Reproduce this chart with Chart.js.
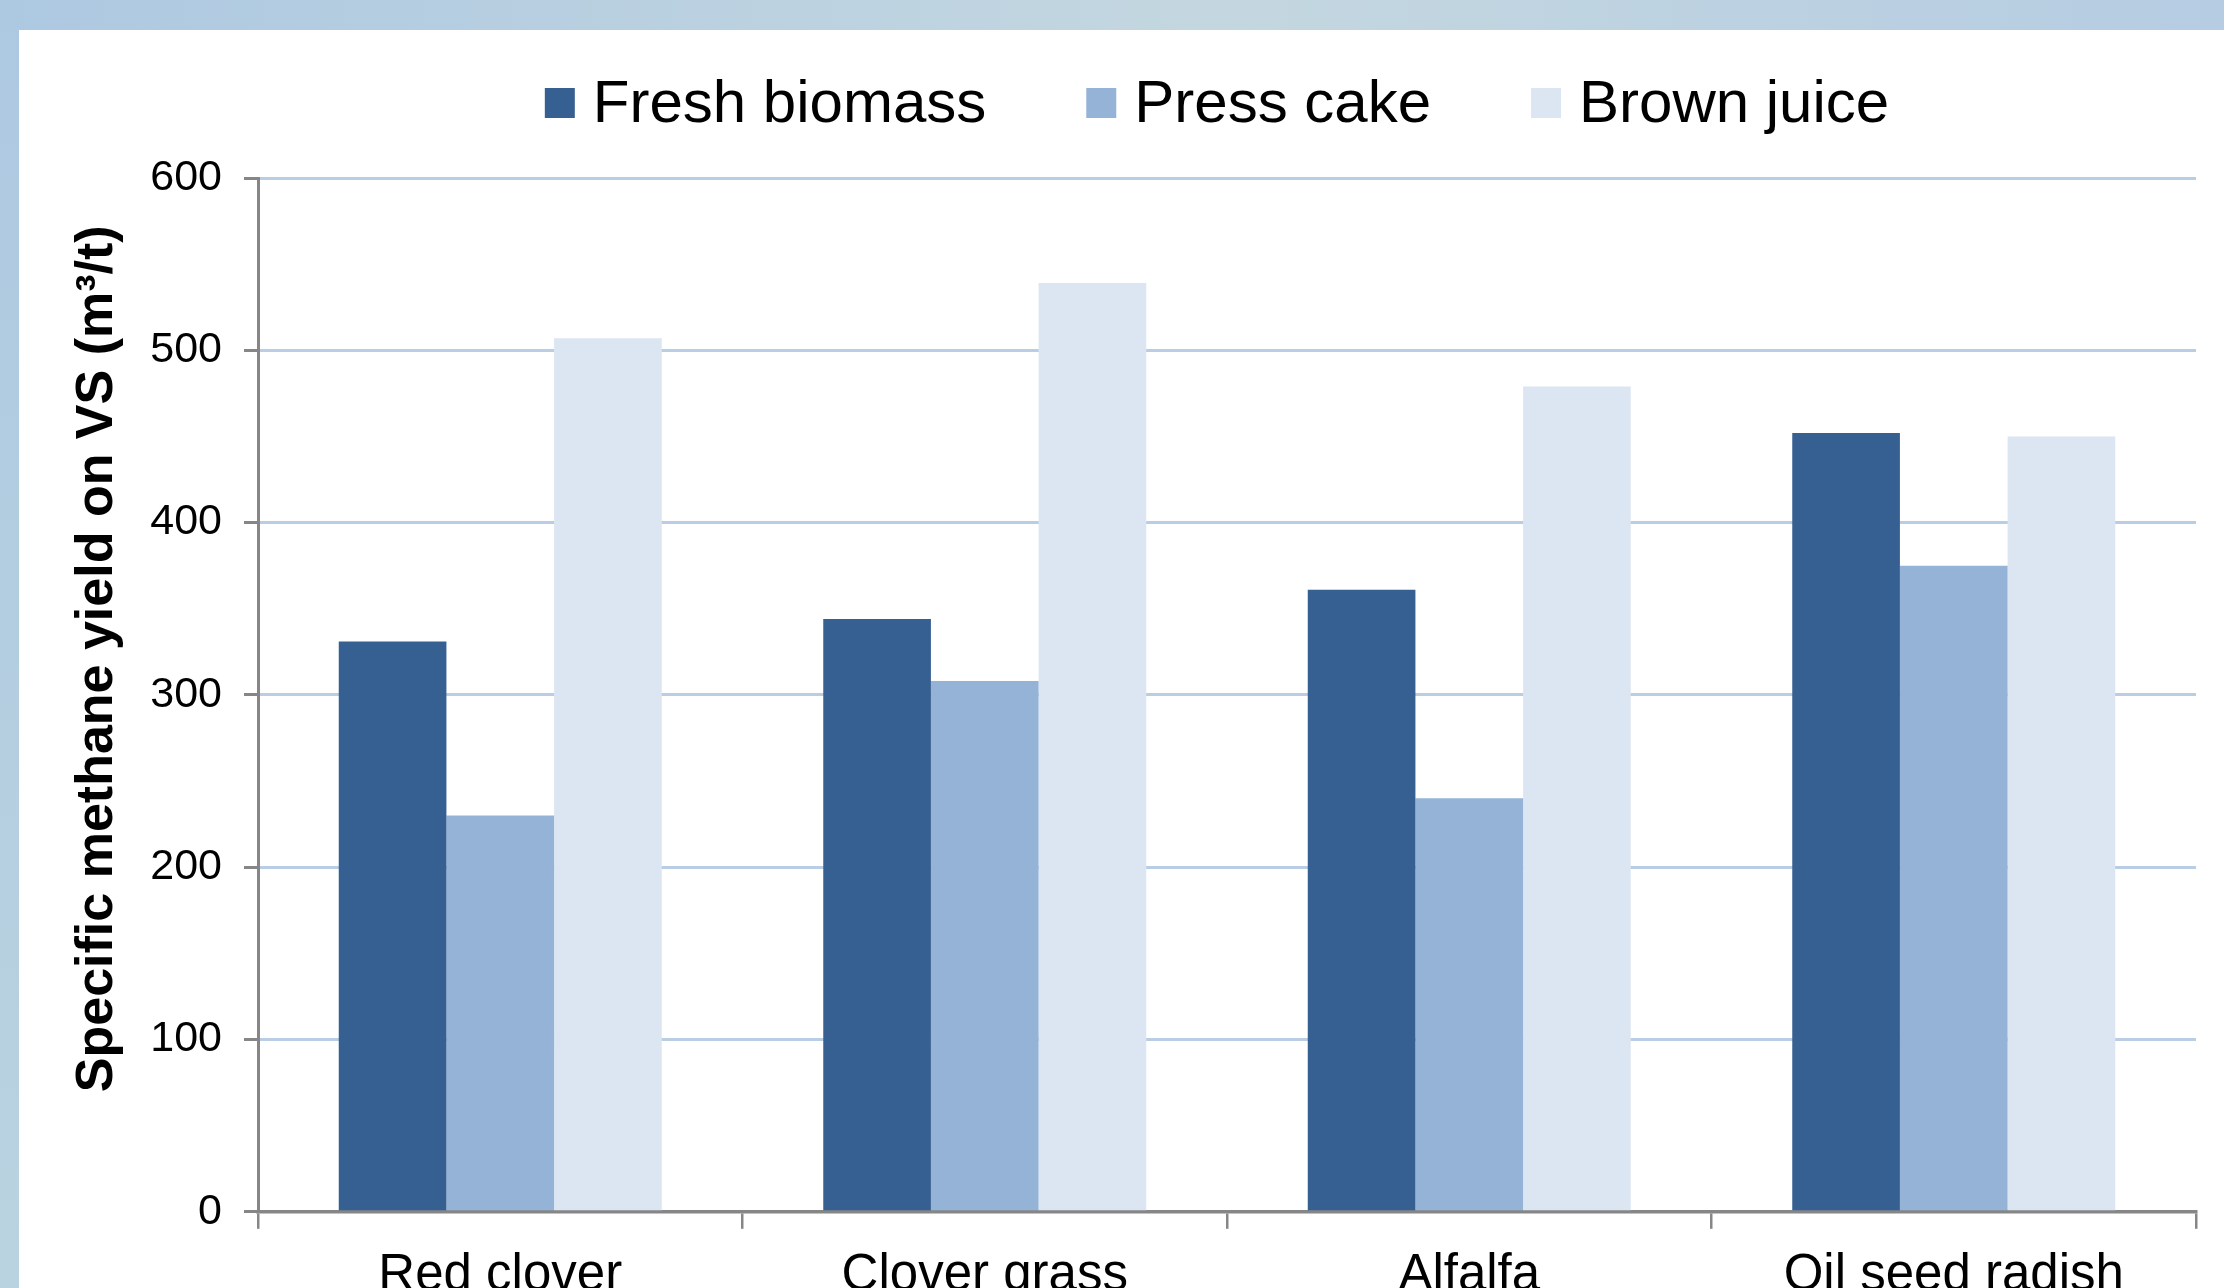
<!DOCTYPE html>
<html lang="en">
<head>
    <meta charset="UTF-8">
    <title>Specific methane yield on VS</title>
    <style>
        html, body {
            margin: 0;
            padding: 0;
            width: 2224px;
            height: 1288px;
            overflow: hidden;
            background: #ffffff;
            font-family: "Liberation Sans", Arial, sans-serif;
        }
        .band-top {
            position: absolute;
            left: 0;
            top: 0;
            width: 2224px;
            height: 30px;
            background: linear-gradient(to right, #adc8e1, #c4d7e0 55%, #b5cce2);
        }
        .band-left {
            position: absolute;
            left: 0;
            top: 0;
            width: 19px;
            height: 1288px;
            background: linear-gradient(to bottom, #adc8e1, #bad3e0);
        }
        .chart-box {
            position: absolute;
            left: 0;
            top: 0;
            width: 2224px;
            height: 1332px;
        }
    </style>
</head>
<body>
    <div class="band-top"></div>
    <div class="band-left"></div>
    <div class="chart-box">
        <canvas id="yield-chart"></canvas>
    </div>

    <script src="https://cdn.jsdelivr.net/npm/chart.js"></script>
    <script>
        // crops and series (m3 CH4 per t VS)
        const crops = ['Red clover', 'Clover grass', 'Alfalfa', 'Oil seed radish'];
        const freshBiomass = [331, 344, 361, 452];
        const pressCake = [230, 308, 240, 375];
        const brownJuice = [507, 539, 479, 450];
        const seriesNames = ['Fresh biomass', 'Press cake', 'Brown juice'];
        const seriesColors = ['#376092', '#95b3d7', '#dce6f2'];
        const yTicks = [0, 100, 200, 300, 400, 500, 600];

        const FONT = '"Liberation Sans", Arial, sans-serif';
        const GRID_BLUE = '#b9cde5';
        const AXIS_GRAY = '#868686';

        // legend row above the plot, drawn from the datasets
        const legendRow = {
            id: 'legendRow',
            afterDraw(chart) {
                const ctx = chart.ctx;
                const area = chart.chartArea;
                const box = 30, gap = 18, spacing = 100;
                ctx.save();
                ctx.font = '60px ' + FONT;
                const items = chart.data.datasets.map(ds => ({
                    text: ds.label,
                    color: ds.backgroundColor,
                    w: ctx.measureText(ds.label).width
                }));
                let total = spacing * (items.length - 1);
                items.forEach(it => { total += box + gap + it.w; });
                let x = (area.left + area.right) / 2 - 10 - total / 2;
                items.forEach(it => {
                    ctx.fillStyle = it.color;
                    ctx.fillRect(x, 88, box, box);
                    ctx.fillStyle = '#000000';
                    ctx.textBaseline = 'alphabetic';
                    ctx.fillText(it.text, x + box + gap, 122);
                    x += box + gap + it.w + spacing;
                });
                ctx.restore();
            }
        };

        const ctx = document.getElementById('yield-chart').getContext('2d');
        new Chart(ctx, {
            type: 'bar',
            data: {
                labels: crops,
                datasets: [freshBiomass, pressCake, brownJuice].map((values, i) => ({
                    label: seriesNames[i],
                    data: values,
                    backgroundColor: seriesColors[i],
                    borderWidth: 0,
                    categoryPercentage: 3 / 4.5,
                    barPercentage: 1.0
                }))
            },
            options: {
                responsive: true,
                maintainAspectRatio: false,
                animation: false,
                devicePixelRatio: 1,
                layout: {
                    padding: { left: 20, top: 178, right: 28, bottom: 8 }
                },
                plugins: {
                    legend: { display: false },
                    tooltip: { enabled: false }
                },
                scales: {
                    x: {
                        grid: {
                            offset: true,
                            drawOnChartArea: false,
                            drawTicks: true,
                            tickLength: 17,
                            tickColor: AXIS_GRAY,
                            lineWidth: 2.5
                        },
                        border: { color: AXIS_GRAY, width: 3.5 },
                        ticks: {
                            color: '#000000',
                            padding: 17,
                            maxRotation: 0,
                            font: { family: FONT, size: 51 }
                        }
                    },
                    y: {
                        min: yTicks[0],
                        max: yTicks[yTicks.length - 1],
                        afterBuildTicks: scale => {
                            scale.ticks = yTicks.map(v => ({ value: v }));
                        },
                        afterFit: scale => {
                            scale.width = 238;
                        },
                        grid: {
                            color: c => (c.tick && c.tick.value === 0) ? 'rgba(0,0,0,0)' : GRID_BLUE,
                            lineWidth: 3,
                            tickLength: 14,
                            tickColor: AXIS_GRAY
                        },
                        border: { color: AXIS_GRAY, width: 3 },
                        ticks: {
                            color: '#000000',
                            padding: 22,
                            font: { family: FONT, size: 43 }
                        },
                        title: {
                            display: true,
                            text: '     Specific methane yield on VS (m³/t)',
                            color: '#000000',
                            padding: { top: 46, bottom: 0 },
                            font: { family: FONT, size: 52, weight: 'bold' }
                        }
                    }
                }
            },
            plugins: [legendRow]
        });
    </script>
</body>
</html>
